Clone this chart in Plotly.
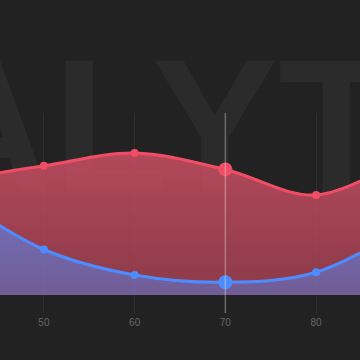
import plotly.graph_objects as go

# ---- data ----
x_vals = [40, 50, 60, 70, 80, 90]
red_vals = [63, 71, 78, 69, 55, 77]
blue_vals = [55, 25, 11, 7, 12.5, 38]
tick_vals = [50, 60, 70, 80]
tick_text = ["50", "60", "70", "80"]
highlight_x = 70
watermark = "ANALYTICS"

x_range = [45.16, 84.84]
y_range = [0, 100]

RED = "#f24d66"
BLUE = "#4d8cff"
BG = "#222222"

sizes = [14 if x == highlight_x else 8 for x in x_vals]

fig = go.Figure()

# watermark (drawn first, beneath the areas)
fig.add_trace(go.Scatter(
    x=[x_range[0] + 0.489 * (x_range[1] - x_range[0])],
    y=[83],
    mode="text",
    text=[watermark],
    textposition="middle center",
    textfont=dict(family="Liberation Sans", size=190, color="#2b2b2b", weight=700),
    cliponaxis=False,
    hoverinfo="skip",
    showlegend=False,
))

fig.add_trace(go.Scatter(
    x=x_vals, y=red_vals,
    mode="lines+markers",
    line=dict(color=RED, width=3, shape="spline", smoothing=1),
    marker=dict(color=RED, size=sizes, opacity=1, line=dict(width=0, color=RED)),
    fill="tozeroy",
    fillgradient=dict(type="vertical",
                      colorscale=[[0, "rgba(175,66,85,0.75)"], [1, "rgba(203,79,100,0.86)"]]),
    showlegend=False,
))

fig.add_trace(go.Scatter(
    x=x_vals, y=blue_vals,
    mode="lines+markers",
    line=dict(color=BLUE, width=3, shape="spline", smoothing=1),
    marker=dict(color=BLUE, size=sizes, opacity=1, line=dict(width=0, color=BLUE)),
    fill="tozeroy",
    fillgradient=dict(type="vertical",
                      colorscale=[[0, "rgba(77,140,255,0.42)"], [1, "rgba(77,140,255,0.62)"]]),
    showlegend=False,
))

fig.add_shape(
    type="line", xref="x", yref="paper",
    x0=highlight_x, x1=highlight_x, y0=-18 / 182, y1=1,
    line=dict(color="rgba(255,255,255,0.3)", width=1.5),
    layer="above",
)

fig.update_layout(
    width=360, height=360,
    margin=dict(l=0, r=0, t=113, b=65),
    paper_bgcolor=BG, plot_bgcolor=BG,
    showlegend=False,
    xaxis=dict(
        range=x_range, tickvals=tick_vals, ticktext=tick_text,
        showgrid=True, gridcolor="rgba(255,255,255,0.06)", gridwidth=1,
        ticks="outside", ticklen=18, tickcolor="rgba(255,255,255,0.06)", tickwidth=1,
        tickfont=dict(family="Liberation Sans", size=10, color="#666666"),
        zeroline=False, showline=False,
    ),
    yaxis=dict(range=y_range, visible=False, showgrid=False, zeroline=False),
)

fig.write_html("out.html")
